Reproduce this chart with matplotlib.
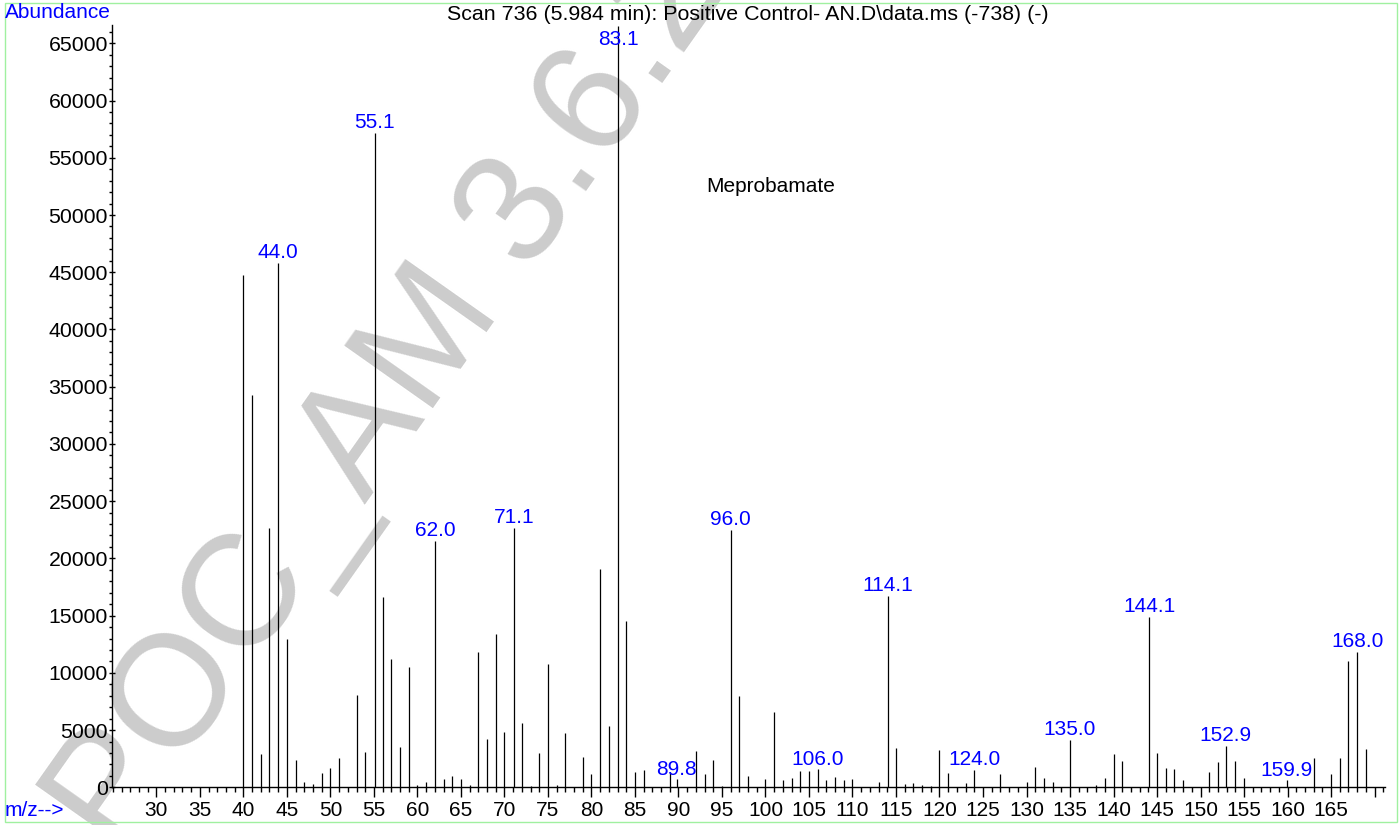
import matplotlib.pyplot as plt
from matplotlib.patches import Rectangle

plt.rcParams['font.family'] = ['Liberation Sans', 'DejaVu Sans']

# m/z values and abundances
mz = [40, 41, 42, 43, 44, 45, 46, 47, 48, 49, 50, 51, 53, 54, 55.1, 56, 57, 58, 59,
      60, 61, 62, 63, 64, 65, 66, 67, 68, 69, 70, 71.1, 72, 73, 74, 75, 76, 77, 79,
      80, 81, 82, 83.1, 84, 85, 86, 89, 89.8, 92, 93, 94, 95, 96, 97, 98, 100, 101,
      102, 103, 104, 105, 106, 107, 108, 109, 110, 113, 114.1, 115, 116, 117, 118,
      119, 120, 121, 123, 124, 127, 130, 131, 132, 133, 135, 138, 139, 140, 141,
      144.1, 145, 146, 147, 148, 151, 152, 152.9, 154, 155, 159.9, 163, 165, 166,
      167, 168, 169]
abundance = [44780, 34290, 2950, 22660, 45830, 12960, 2390, 440, 270, 1220, 1690, 2530,
             8070, 3110, 57190, 16630, 11210, 3500, 10510,
             200, 440, 21530, 700, 990, 730, 200, 11830, 4220, 13400, 4860, 22640, 5620,
             150, 3020, 10780, 200, 4770, 2680,
             1160, 19050, 5360, 66500, 14530, 1370, 1480, 1360, 700, 3170, 1130, 2400,
             100, 22490, 7980, 960, 730, 6550,
             610, 840, 1400, 1450, 1570, 640, 930, 610, 730, 460, 16720, 3410, 290, 400,
             200, 100, 3260, 1220, 350, 1510, 1160, 460, 1750, 790, 460, 4130, 200, 810,
             2880, 2300,
             14880, 3020, 1690, 1570, 610, 1310, 2240, 3640, 2300, 840, 610, 2560, 1130,
             2590, 11040, 11830, 3350]

# peaks that carry a blue m/z label
labelled = ['44.0', '55.1', '62.0', '71.1', '83.1', '89.8', '96.0', '106.0', '114.1',
            '124.0', '135.0', '144.1', '152.9', '159.9', '168.0']

title = 'Scan 736 (5.984 min): Positive Control- AN.D\\data.ms (-738) (-)'
compound = 'Meprobamate'
watermark = 'POC_AM 3.6.2.1'

W, H = 1400, 825
fig = plt.figure(figsize=(14, 8.25), dpi=100)
ax = fig.add_axes([112 / W, (H - 787.3) / H, (1385 - 112) / W, (787.3 - 25) / H])
ax.patch.set_alpha(0)

# watermark behind everything
ax.text(117 / W, (H - 857) / H, watermark, transform=fig.transFigure,
        fontsize=114, color='#cccccc', rotation=54.8, rotation_mode='anchor',
        ha='left', va='baseline', zorder=0, clip_on=False)

ax.vlines(mz, 0, abundance, color='black', linewidth=0.9, zorder=2)

top = max(abundance)
for lab in labelled:
    i = min(range(len(mz)), key=lambda k: abs(mz[k] - float(lab)))
    if abundance[i] == top:
        ax.annotate(lab, (mz[i], abundance[i]), xytext=(0, -3), textcoords='offset points',
                    ha='center', va='top', color='blue', fontsize=15, zorder=3)
    else:
        ax.annotate(lab, (mz[i], abundance[i]), xytext=(0, 0.5), textcoords='offset points',
                    ha='center', va='bottom', color='blue', fontsize=15, zorder=3)

ax.text(100.65, 52450, compound, ha='center', va='center', fontsize=15, color='black')

ax.set_xlim(24.9, 171.2)
ax.set_ylim(0, 66600)

xt = list(range(30, 171, 5))
ax.set_xticks(xt)
ax.set_xticklabels([str(v) if v < 170 else '' for v in xt])
ax.set_xticks(range(25, 172), minor=True)
ax.set_yticks(range(0, 65001, 5000))
ax.set_yticks(range(0, 66001, 1000), minor=True)

ax.tick_params(axis='x', which='major', direction='out', length=7.2, width=1, labelsize=15, pad=3)
ax.tick_params(axis='x', which='minor', direction='out', length=3.6, width=1)
ax.tick_params(axis='y', which='major', direction='inout', length=4, width=1, labelsize=15.3, pad=1)
ax.tick_params(axis='y', which='minor', direction='out', length=2, width=1)

for s in ['top', 'right']:
    ax.spines[s].set_visible(False)
for s in ['left', 'bottom']:
    ax.spines[s].set_linewidth(1)

fig.text(748 / W, 1 - 14 / H, title, ha='center', va='center', fontsize=15.4)
fig.text(5 / W, 1 - 13 / H, 'Abundance', ha='left', va='center', fontsize=15, color='blue')
fig.text(5 / W, 1 - 811 / H, 'm/z-->', ha='left', va='center', fontsize=15, color='blue')

fig.patches.append(Rectangle((4.5 / W, 3 / H), (1397 - 4.5) / W, (822 - 3) / H,
                             transform=fig.transFigure, fill=False,
                             edgecolor='#a0f0a0', linewidth=1))

fig.savefig('out.png', dpi=100)
